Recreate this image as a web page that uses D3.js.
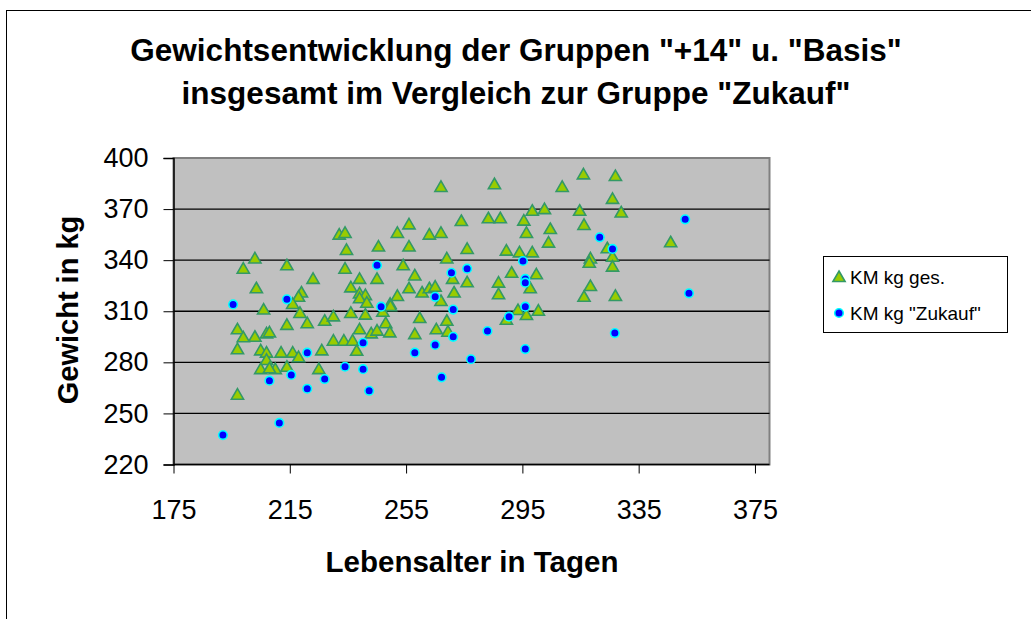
<!DOCTYPE html>
<html>
<head>
<meta charset="utf-8">
<script src="https://cdn.jsdelivr.net/npm/d3@7"></script>
<style>
html,body{margin:0;padding:0;background:#fff;}
svg{display:block;font-family:"Liberation Sans",Arial,sans-serif;}
</style>
</head>
<body>
<svg id="chart" width="1031" height="619"></svg>
<script>
// ---- Data ----
const titleLines = ['Gewichtsentwicklung der Gruppen "+14" u. "Basis"', 'insgesamt im Vergleich zur Gruppe "Zukauf"'];
const xTitle = "Lebensalter in Tagen";
const yTitle = "Gewicht in kg";
const seriesNames = ["KM kg ges.", 'KM kg "Zukauf"'];
const xTicks = [175, 215, 255, 295, 335, 375];
const yTicks = [220, 250, 280, 310, 340, 370, 400];

// Series 1: KM kg ges. (triangles) — age in days / weight kg
const gesAge = [
 203,199,214,203.5,223,219,218,216,
 206,218.5,221,227,214,197,199,203,207,208,197,205,207,212,216,218,226,207,205,210,208,214,225,197,
 267,274,256,252,232,234,263,267,234.5,245.5,256,276,269,234,254,258,239,245,271,276,236,239,241,239,241.5,256,260.5,263,265,271.5,267,252,249.5,
 236,230,241,247,249.6,248,239,243,245,249.4,230,233.6,236.6,238,259.7,269,265.4,269.4,258,
 285.4,316,327,308.7,326,298.4,302.6,314.7,329,283.3,287.4,295.5,304.6,316.2,296.4,304,289.5,294,298.4,318.4,318,326,324.2,326,291.3,299.8,286.8,286.8,297.7,318.4,316.2,327,
 293.5,296.4,300.5,289.5,
 346
];
const gesKg = [
 341,335,337,323.5,329,321,318.5,314.3,
 311,309,303,304.4,302,299.4,294.7,295,297,297.6,287.7,287,285.7,285.7,285.7,283,287,281.4,276,276,276.5,277.4,276,261,
 383,363,361,356,355,356,355,356,346,348,348,346.6,341,335,337,331,329,329,329,327,324,320.5,319.5,317.6,315,323.5,321,323.5,324.4,321,316,319,314.3,
 309,307,308,309.7,313,303,299.4,297,298.6,297.6,292.7,292.7,292.7,286.8,306,304.4,299.4,298,296.6,
 384.6,390.4,389.4,383,376,369,370,369,368,364.6,364.6,363.2,358.3,360.7,356,350.3,345.6,344.6,344.6,341,338.5,342,347,336.2,332.6,331.7,326.8,320,323.5,324.8,318.5,319,
 310.7,307.8,310.3,305,
 350.5
];

// Series 2: KM kg "Zukauf" (circles) — age in days / weight kg
const zukAge = [
 195.5,214,221,227,208,215.5,221,211.4,192,
 245,270.6,276,265,
 246.4,271.2,271.2,240.2,265,258,277.3,234,240.2,267.2,242.3,
 321.6,326,295.2,296,296,
 296,290.4,283,296,326.8,
 351,352.3
];
const zukKg = [
 314,317,285.7,270.2,269.2,272.6,264.5,244.4,237.3,
 337,332.6,335,318.5,
 312.7,311,295,291.5,290.2,285.7,281.8,277.4,276,271.2,263.3,
 353.4,346.6,339.5,329,326.8,
 312.7,306.8,298.4,287.8,297.2,
 364,320.5
];

// ---- Layout ----
const FONT = '"Liberation Sans",Arial,sans-serif';
const svg = d3.select("#chart");

// chart area border
svg.append("rect").attr("x", 6.5).attr("y", 10.5).attr("width", 1040).attr("height", 640)
  .attr("fill", "#fff").attr("stroke", "#000").attr("stroke-width", 1);

const plot = {x0: 173.5, x1: 769.5, y0: 158, y1: 464.5};
const x = d3.scaleLinear().domain([175, 380]).range([plot.x0, plot.x1]);
const y = d3.scaleLinear().domain([220, 400]).range([plot.y1, plot.y0]);

// plot area
svg.append("rect").attr("x", plot.x0).attr("y", plot.y0)
  .attr("width", plot.x1 - plot.x0).attr("height", plot.y1 - plot.y0)
  .attr("fill", "#C0C0C0").attr("stroke", "#808080").attr("stroke-width", 2);

// gridlines
svg.append("g").selectAll("line").data(yTicks.filter(d => d > 220 && d < 400)).join("line")
  .attr("x1", plot.x0).attr("x2", plot.x1)
  .attr("y1", d => y(d)).attr("y2", d => y(d))
  .attr("stroke", "#000").attr("stroke-width", 1.3);

// axes
const yAxis = d3.axisLeft(y).tickValues(yTicks).tickSize(10).tickPadding(15).tickFormat(d3.format("d"));
const gy = svg.append("g").attr("transform", `translate(${plot.x0},0)`).call(yAxis);
gy.select(".domain").attr("stroke", "#000").attr("stroke-width", 1.5);
gy.selectAll(".tick line").attr("stroke", "#000").attr("stroke-width", 1);
gy.selectAll(".tick text").attr("font-size", 27).attr("fill", "#000").attr("font-family", FONT);

const xAxis = d3.axisBottom(x).tickValues(xTicks).tickSize(9).tickPadding(26).tickFormat(d3.format("d"));
const gx = svg.append("g").attr("transform", `translate(0,${plot.y1})`).call(xAxis);
gx.select(".domain").attr("stroke", "#000").attr("stroke-width", 1.5)
  .attr("d", `M${plot.x0},0H${plot.x1}`);
gx.selectAll(".tick line").attr("stroke", "#000").attr("stroke-width", 1);
gx.selectAll(".tick text").attr("font-size", 27).attr("fill", "#000").attr("font-family", FONT);

// title
svg.append("g").selectAll("text").data(titleLines).join("text")
  .attr("x", 516).attr("y", (d, i) => 61 + i * 43)
  .attr("text-anchor", "middle").attr("font-weight", "bold").attr("font-size", 31.5)
  .attr("fill", "#000").text(d => d);

// axis titles
svg.append("text").attr("x", 472).attr("y", 572).attr("text-anchor", "middle")
  .attr("font-weight", "bold").attr("font-size", 29.5).text(xTitle);
svg.append("text").attr("transform", "translate(78,310) rotate(-90)").attr("text-anchor", "middle")
  .attr("font-weight", "bold").attr("font-size", 29).text(yTitle);

// markers
const tri = d3.symbol().type(d3.symbolTriangle).size(64);
const ges = gesAge.map((a, i) => ({a, k: gesKg[i]}));
const zuk = zukAge.map((a, i) => ({a, k: zukKg[i]}));

svg.append("g").selectAll("path").data(ges).join("path")
  .attr("d", tri)
  .attr("transform", d => `translate(${x(d.a)},${y(d.k) + 1})`)
  .attr("fill", "#99CC00").attr("stroke", "#339966").attr("stroke-width", 1.6);

svg.append("g").selectAll("circle").data(zuk).join("circle")
  .attr("cx", d => x(d.a)).attr("cy", d => y(d.k)).attr("r", 4.3)
  .attr("fill", "#0000FF").attr("stroke", "#00FFFF").attr("stroke-width", 1.6);

// legend
const lg = svg.append("g");
lg.append("rect").attr("x", 823.5).attr("y", 256.5).attr("width", 184).attr("height", 76)
  .attr("fill", "#fff").attr("stroke", "#000").attr("stroke-width", 1);
lg.append("path").attr("d", tri).attr("transform", "translate(839,278)")
  .attr("fill", "#99CC00").attr("stroke", "#339966").attr("stroke-width", 1.6);
lg.append("circle").attr("cx", 839).attr("cy", 313).attr("r", 4.3)
  .attr("fill", "#0000FF").attr("stroke", "#00FFFF").attr("stroke-width", 1.6);
lg.selectAll("text").data(seriesNames).join("text")
  .attr("x", 850).attr("y", (d, i) => 284 + i * 36)
  .attr("font-size", 19).attr("fill", "#000").text(d => d);
</script>
</body>
</html>
